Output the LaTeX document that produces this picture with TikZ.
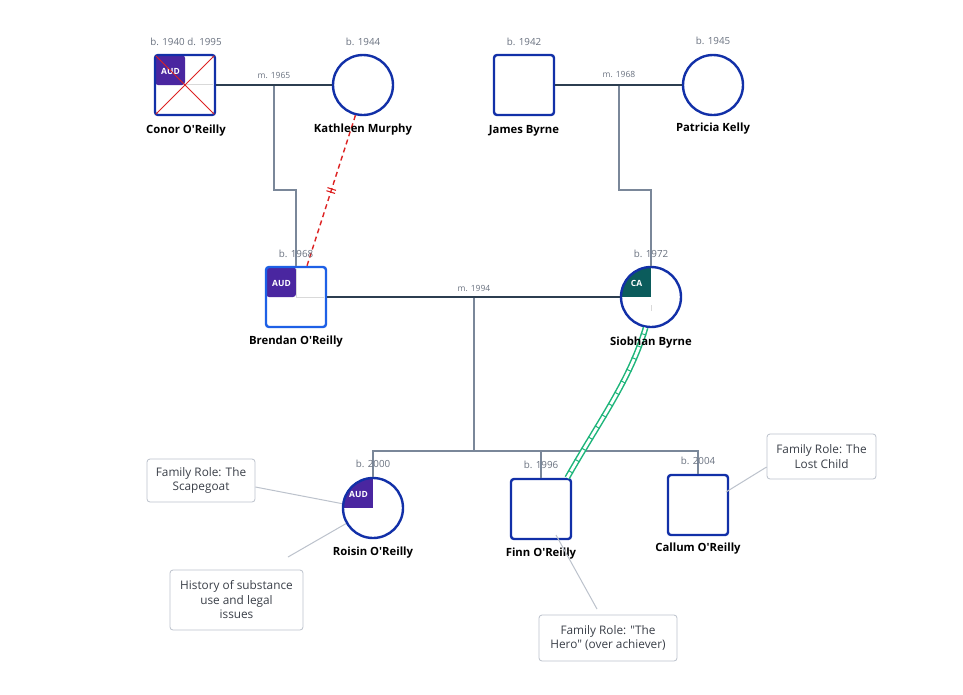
\documentclass[tikz,border=0pt]{standalone}
\usepackage{fontspec}
\setmainfont{Open Sans}
\usetikzlibrary{decorations.markings}
\definecolor{pblue}{HTML}{1230A8}
\definecolor{bblue}{HTML}{1E60E6}
\definecolor{audc}{HTML}{4A26A0}
\definecolor{cac}{HTML}{0B5C5C}
\definecolor{marr}{HTML}{2C3E50}
\definecolor{kid}{HTML}{7A8799}
\definecolor{yr}{HTML}{6A7280}
\definecolor{notec}{HTML}{BCC2CC}
\definecolor{notet}{HTML}{3A3F48}
\definecolor{redc}{HTML}{DD2222}
\definecolor{grc}{HTML}{1DB57A}
\newcommand\aps{\textquotesingle}
\tikzset{
  sq/.style={draw=pblue, line width=2.4pt, rounded corners=3pt, minimum size=60pt, inner sep=0pt, fill=white},
  ci/.style={draw=pblue, line width=2.4pt, circle, minimum size=60pt, inner sep=0pt, fill=white},
  qtext/.style={text=white, font=\bfseries\fontsize{8.5}{10}\selectfont, inner sep=0pt},
  quad/.style 2 args={path picture={
     \fill[#1] (path picture bounding box.north west) rectangle (path picture bounding box.center);
     \node[qtext] at ([xshift=-14.5pt,yshift=14pt]path picture bounding box.center) {#2};}},
  faint/.style={draw=black!15, line width=0.8pt},
  yrs/.style={text=yr, font=\fontsize{9.8}{11}\selectfont, inner sep=0pt},
  nm/.style={text=black, font=\bfseries\fontsize{11.3}{13}\selectfont, inner sep=0pt},
  mline/.style={draw=marr, line width=1.8pt},
  kline/.style={draw=kid, line width=1.2pt},
  mtext/.style={text=yr, font=\fontsize{8.5}{10}\selectfont, inner sep=0pt},
  note/.style={draw=notec, line width=0.8pt, rounded corners=3pt, text=notet, align=center,
     font=\fontsize{11.8}{14.5}\selectfont, inner sep=0pt, fill=white},
  nline/.style={draw=notec, line width=1pt},
}
\begin{document}
\begin{tikzpicture}[x=1pt,y=-1pt]
\path[use as bounding box, fill=white] (0,0) rectangle (963,694);

% ---- persons ----
\node[sq, quad={audc}{AUD}] (conor) at (185,85) {};
\node[ci] (kathleen) at (363,85) {};
\node[sq] (james) at (524,85) {};
\node[ci] (patricia) at (713,85) {};
\node[sq, draw=bblue, quad={audc}{AUD}] (brendan) at (296,297) {};
\node[ci, quad={cac}{CA}] (siobhan) at (651,297) {};
\node[ci, quad={audc}{AUD}] (roisin) at (373,508) {};
\node[sq] (finn) at (541,509) {};
\node[sq] (callum) at (698,505) {};

% faint quadrant separators
\draw[faint] ([shift={(0,-1)}]conor.center) -- ([shift={(-3,-1)}]conor.east);
\draw[faint] (brendan.center) -- ([xshift=-3pt]brendan.east);
\draw[faint] (brendan.center) -- ([yshift=-3pt]brendan.north);
\draw[faint] ([yshift=-8pt]siobhan.center) -- ([yshift=-14pt]siobhan.center);

% deceased cross
\draw[redc, line width=0.9pt] ([shift={(2,2)}]conor.north west) -- ([shift={(-2,-2)}]conor.south east);
\draw[redc, line width=0.9pt] ([shift={(-2,2)}]conor.north east) -- ([shift={(2,-2)}]conor.south west);

% ---- marriages and descent ----
\coordinate (m1) at (274,85);
\coordinate (m2) at (619,85);
\coordinate (m3) at (474,297);
\coordinate (b1) at (274,190);
\coordinate (b2) at (619,190);
\coordinate (sib) at (474,451);

\draw[kline] (m1) -- (b1) -| (brendan.north);
\draw[kline] (m2) -- (b2) -| (siobhan.north);
\draw[kline] (m3) -- (sib);
\draw[kline] (roisin.north) |- (sib) -| (callum.north);
\draw[kline] (sib) -| (finn.north);

\draw[mline] (conor.east) -- (kathleen.west);
\draw[mline] (james.east) -- (patricia.west);
\draw[mline] (brendan.east) -- (siobhan.west);
\node[mtext] (t1) at (274,75) {m. 1965};
\node[mtext] (t2) at (619,74) {m. 1968};
\node[mtext] (t3) at (474,288) {m. 1994};

% ---- emotional relationships ----
\draw[redc, line width=1.4pt, dash pattern=on 5pt off 3.5pt,
  postaction={decorate, decoration={markings, mark=at position 0.5 with {
     \draw[solid, line width=1.1pt] (-1.6pt,-4.5pt) -- (-1.6pt,4.5pt);
     \draw[solid, line width=1.1pt] (1.6pt,-4.5pt) -- (1.6pt,4.5pt);}}}]
  (kathleen.-104) -- ([xshift=11pt]brendan.north);

\draw[grc, line width=1.5pt, double=white, double distance=2.8pt]
  (siobhan.-100) .. controls (630,380) and (600,420) .. ([xshift=-5pt]finn.north east);
\path[decorate, decoration={markings, mark=between positions 0.04 and 0.98 step 13pt with {
     \draw[grc, line width=1pt] (0,-2.8pt) -- (0,2.8pt);}}]
  (siobhan.-100) .. controls (630,380) and (600,420) .. ([xshift=-5pt]finn.north east);

% years
\node[yrs] (yconor) at (186,42) {b. 1940 d. 1995};
\node[yrs] (ykath) at (363,42) {b. 1944};
\node[yrs] (yjames) at (524,42) {b. 1942};
\node[yrs] (ypat) at (713,41) {b. 1945};
\node[yrs] (ybren) at (296,254) {b. 1968};
\node[yrs] (ysio) at (651,254) {b. 1972};
\node[yrs] (yroi) at (373,464) {b. 2000};
\node[yrs] (yfinn) at (541,465) {b. 1996};
\node[yrs] (ycal) at (698,461) {b. 2004};

% names
\node[nm] (nconor) at (186,131) {Conor O\aps Reilly};
\node[nm] (nkath) at (363,130) {Kathleen Murphy};
\node[nm] (njames) at (524,131) {James Byrne};
\node[nm] (npat) at (713,129) {Patricia Kelly};
\node[nm] (nbren) at (296,342) {Brendan O\aps Reilly};
\node[nm] (nsio) at (651,343) {Siobhan Byrne};
\node[nm] (nroi) at (373,553) {Roisin O\aps Reilly};
\node[nm] (nfinn) at (541,554) {Finn O\aps Reilly};
\node[nm] (ncal) at (698,549) {Callum O\aps Reilly};

% ---- notes ----
\node[note, minimum width=108pt, minimum height=43pt] (nscape) at (201,480.5) {Family Role: The\\Scapegoat};
\node[note, minimum width=133pt, minimum height=60pt] (nhist) at (236.5,600) {History of substance\\use and legal\\issues};
\node[note, minimum width=138pt, minimum height=46pt] (nhero) at (608,638) {Family Role: \textquotedbl The\\Hero\textquotedbl\ (over achiever)};
\node[note, minimum width=109pt, minimum height=45pt] (nlost) at (821.5,456.5) {Family Role: The\\Lost Child};

\coordinate (hs) at (288,557);
\coordinate (hh) at (597,609);
\draw[nline] (nscape.east |- 0,487) -- (roisin.172);
\draw[nline] (hs) -- (roisin.-150);
\draw[nline] (hh) -- ([shift={(15,26)}]finn.center);
\draw[nline] (nlost.west |- 0,467) -- ([shift={(28,-13)}]callum.center);
\end{tikzpicture}
\end{document}
